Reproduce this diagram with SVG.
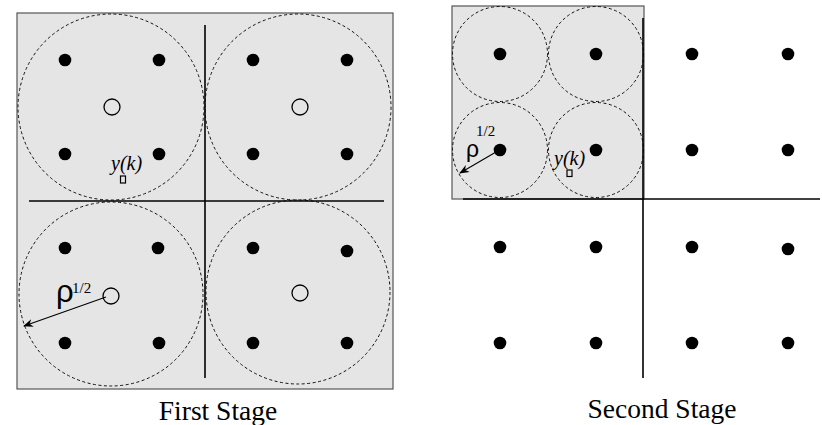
<svg xmlns="http://www.w3.org/2000/svg" width="822" height="425" viewBox="0 0 822 425">
<style>
.panel{fill:#e5e5e5;stroke:#555;stroke-width:1.2}
.dash{fill:none;stroke:#111;stroke-width:1;stroke-dasharray:3 2.5}
.dot{fill:#000}
.open{fill:none;stroke:#000;stroke-width:1.3}
.axis{stroke:#000;stroke-width:1.6;fill:none}
.arrow{stroke:#000;stroke-width:1.1;fill:none}
.sq{fill:none;stroke:#000;stroke-width:1.2}
.it{font-family:"Liberation Serif",serif;font-style:italic;font-size:20px}
.rho{font-family:"Liberation Sans",sans-serif}
.sup{font-family:"Liberation Serif",serif;font-size:15px}
.cap{font-family:"Liberation Serif",serif;font-size:27.5px}
</style>
<defs>
<marker id="ah" markerWidth="10" markerHeight="8" refX="9" refY="4" orient="auto" markerUnits="userSpaceOnUse">
<path d="M0,0 L10,4 L0,8 L3,4 Z" fill="#000"/>
</marker>
</defs>

<g id="first-stage">
<rect class="panel" x="17" y="13" width="376" height="376"/>
<g id="fs-q1">
<circle class="dash" cx="111" cy="107" r="93"/>
<circle class="dot" cx="65" cy="60" r="6.3"/>
<circle class="dot" cx="159" cy="60" r="6.3"/>
<circle class="dot" cx="65" cy="154" r="6.3"/>
<circle class="dot" cx="159" cy="154" r="6.3"/>
<circle class="open" cx="112" cy="107" r="8"/>
</g>
<g id="fs-q2">
<circle class="dash" cx="298" cy="107" r="93"/>
<circle class="dot" cx="253" cy="60" r="6.3"/>
<circle class="dot" cx="347" cy="60" r="6.3"/>
<circle class="dot" cx="253" cy="154" r="6.3"/>
<circle class="dot" cx="347" cy="154" r="6.3"/>
<circle class="open" cx="300" cy="107" r="8"/>
</g>
<g id="fs-q3">
<circle class="dash" cx="111" cy="294" r="92"/>
<circle class="dot" cx="65" cy="248" r="6.3"/>
<circle class="dot" cx="158" cy="248" r="6.3"/>
<circle class="dot" cx="65" cy="343" r="6.3"/>
<circle class="dot" cx="159" cy="343" r="6.3"/>
<circle class="open" cx="111" cy="296" r="8"/>
</g>
<g id="fs-q4">
<circle class="dash" cx="298" cy="292" r="92"/>
<circle class="dot" cx="253" cy="248" r="6.3"/>
<circle class="dot" cx="347" cy="251" r="6.3"/>
<circle class="dot" cx="253" cy="343" r="6.3"/>
<circle class="dot" cx="347" cy="343" r="6.3"/>
<circle class="open" cx="300" cy="293" r="8"/>
</g>
<g id="fs-yk">
<text class="it" x="111" y="170">y(k)</text>
<rect class="sq" x="120.5" y="176" width="5" height="7"/>
</g>
<g id="fs-rho">
<text class="rho" x="56" y="302" font-size="31">ρ</text>
<text class="sup" x="72" y="293">1/2</text>
</g>
<text class="cap" x="218" y="420" text-anchor="middle">First Stage</text>
</g>

<g id="second-stage">
<rect class="panel" x="452" y="6" width="192" height="193"/>
<g id="ss-circles">
<circle class="dash" cx="500" cy="54" r="47.5"/>
<circle class="dash" cx="596" cy="54" r="47.5"/>
<circle class="dash" cx="500" cy="150" r="47.5"/>
<circle class="dash" cx="596" cy="150" r="47.5"/>
</g>
<g id="ss-dots">
<circle class="dot" cx="500" cy="54" r="6.3"/>
<circle class="dot" cx="596" cy="54" r="6.3"/>
<circle class="dot" cx="692" cy="54" r="6.3"/>
<circle class="dot" cx="788" cy="54" r="6.3"/>
<circle class="dot" cx="500" cy="150" r="6.3"/>
<circle class="dot" cx="596" cy="150" r="6.3"/>
<circle class="dot" cx="692" cy="150" r="6.3"/>
<circle class="dot" cx="788" cy="150" r="6.3"/>
<circle class="dot" cx="500" cy="247" r="6.3"/>
<circle class="dot" cx="596" cy="247" r="6.3"/>
<circle class="dot" cx="692" cy="247" r="6.3"/>
<circle class="dot" cx="788" cy="249" r="6.3"/>
<circle class="dot" cx="500" cy="343" r="6.3"/>
<circle class="dot" cx="596" cy="343" r="6.3"/>
<circle class="dot" cx="692" cy="343" r="6.3"/>
<circle class="dot" cx="788" cy="343" r="6.3"/>
</g>
<g id="ss-yk">
<text class="it" x="554" y="165">y(k)</text>
<rect class="sq" x="567" y="170" width="5" height="6.5"/>
</g>
<g id="ss-rho">
<text class="rho" x="466" y="157" font-size="23">ρ</text>
<text class="sup" x="476" y="136">1/2</text>
</g>
<text class="cap" x="662" y="418" text-anchor="middle">Second Stage</text>
</g>

<g id="connectors">
<line class="axis" x1="205" y1="25" x2="205" y2="378"/>
<line class="axis" x1="29" y1="201" x2="384" y2="201"/>
<line class="axis" x1="643" y1="18" x2="643" y2="378"/>
<line class="axis" x1="463" y1="199" x2="820" y2="199"/>
<line class="arrow" x1="106" y1="297" x2="24" y2="326" marker-end="url(#ah)"/>
<line class="arrow" x1="496" y1="152" x2="460" y2="173" marker-end="url(#ah)"/>
</g>
</svg>
